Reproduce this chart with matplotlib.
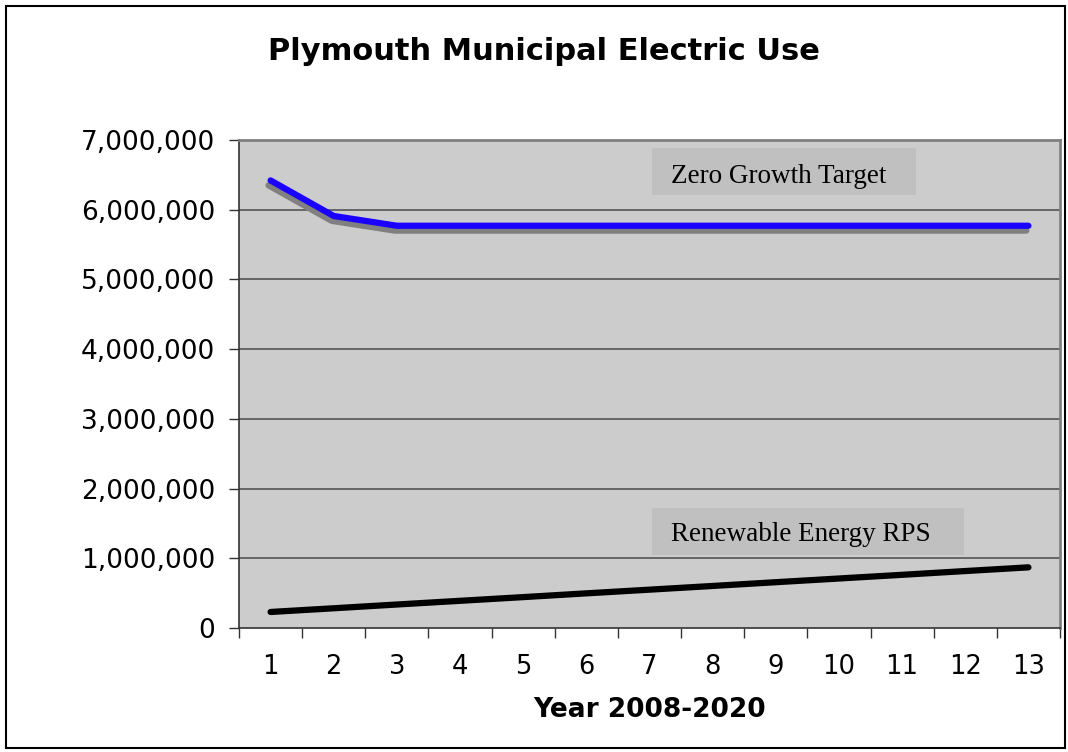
import matplotlib
matplotlib.use("Agg")
import matplotlib.pyplot as plt
from matplotlib.ticker import FuncFormatter, FixedLocator
from matplotlib.patches import Rectangle
import matplotlib.patheffects as pe

years = list(range(1, 14))
zero_growth = [6420000, 5910000, 5770000, 5770000, 5770000, 5770000, 5770000,
               5770000, 5770000, 5770000, 5770000, 5770000, 5770000]
renewable = [230000, 283000, 337000, 390000, 443000, 497000, 550000,
             603000, 657000, 710000, 763000, 817000, 870000]
yticks = [0, 1000000, 2000000, 3000000, 4000000, 5000000, 6000000, 7000000]

plt.rcParams['font.family'] = ['DejaVu Sans']

fig = plt.figure(figsize=(10.68, 7.52), dpi=100)
fig.patches.append(Rectangle((6/1068, 4/752), 1059/1068, 742/752, transform=fig.transFigure,
                             fill=False, edgecolor='black', linewidth=1.5))

ax = fig.add_axes([239/1068, 1 - 628/752, (1060-239)/1068, (628-140)/752])
ax.set_facecolor('#cccccc')
ax.set_xlim(0.5, 13.5)
ax.set_ylim(0, 7000000)

for y in yticks[1:]:
    ax.axhline(y, color='#555555', linewidth=1.2, zorder=1)

shadow = [pe.SimpleLineShadow(offset=(-1.5, -3.5), shadow_color='#808080', alpha=1.0), pe.Normal()]
ax.plot(years, zero_growth, color='#1a00ff', linewidth=4.5, solid_capstyle='round',
        solid_joinstyle='round', path_effects=shadow, zorder=3)
ax.plot(years, renewable, color='black', linewidth=4.5, solid_capstyle='round', zorder=3)

ax.yaxis.set_major_locator(FixedLocator(yticks))
ax.yaxis.set_major_formatter(FuncFormatter(lambda v, p: f"{int(v):,}"))
ax.set_xticks(years)
ax.set_xticks([i + 0.5 for i in range(0, 14)], minor=True)
ax.tick_params(axis='x', which='major', length=0, labelsize=18.5, pad=19)
ax.tick_params(axis='x', which='minor', length=7, width=1, color='#333333')
ax.tick_params(axis='y', which='major', length=7, width=1, labelsize=19, pad=10, color='#333333')

for s in ['left', 'bottom']:
    ax.spines[s].set_color('#333333')
    ax.spines[s].set_linewidth(1.2)
for s in ['top', 'right']:
    ax.spines[s].set_color('#808080')
    ax.spines[s].set_linewidth(2)

ax.set_xlabel('Year 2008-2020', fontsize=19, fontweight='bold', labelpad=12)
fig.text(544/1068, 1 - 52/752, 'Plymouth Municipal Electric Use', fontsize=22,
         fontweight='bold', ha='center', va='center')

# annotation boxes
ax.add_patch(Rectangle((7.04, 6211000), 11.22 - 7.04, 6885000 - 6211000,
                       facecolor='#c0c0c0', edgecolor='none', zorder=2))
ax.text(7.34, 6480000, 'Zero Growth Target', fontsize=19.5, family='Liberation Serif',
        ha='left', va='center', zorder=4)
ax.add_patch(Rectangle((7.04, 1047000), 11.98 - 7.04, 1721000 - 1047000,
                       facecolor='#c0c0c0', edgecolor='none', zorder=2))
ax.text(7.34, 1348000, 'Renewable Energy RPS', fontsize=19.5, family='Liberation Serif',
        ha='left', va='center', zorder=4)

fig.savefig('out.png', dpi=100)
